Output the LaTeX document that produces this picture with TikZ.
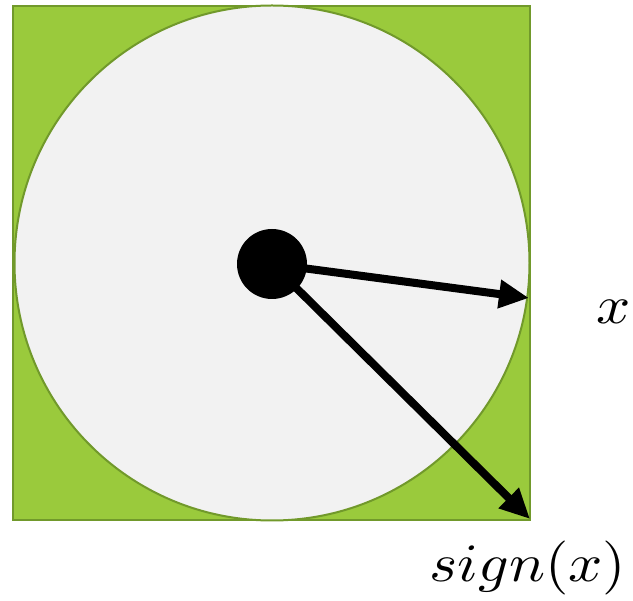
\documentclass[tikz,border=0pt]{standalone}
\usetikzlibrary{arrows.meta}
\definecolor{sqgreen}{HTML}{9ACA3C}
\definecolor{edgegreen}{HTML}{71992B}
\definecolor{disk}{HTML}{F2F2F2}
\newcommand{\biglabel}[1]{\scalebox{6.0}[5.4]{$#1$}}
\begin{document}
\begin{tikzpicture}[x=1pt,y=-1pt,
  vec/.style={line width=8pt,-{Triangle[length=30pt,width=27pt]}},
  lbl/.style={inner sep=0pt}]
\useasboundingbox (0,0) rectangle (633,601);
\draw[edgegreen,fill=sqgreen,line width=2.5pt] (13,6) rectangle (530,520);
\draw[edgegreen,fill=disk,line width=2pt] (272,263) circle[radius=257.5];
\node[circle,fill=black,minimum size=70pt,inner sep=0pt] (c) at (272,264) {};
\coordinate (a) at (529,298);
\coordinate (b) at (530,519);
\draw[vec] (c.center) -- (a);
\draw[vec] (c.center) -- (b);
\node[lbl] (lx) at (614,312) {\biglabel{x}};
\node[lbl] (ls) at (528,568) {\biglabel{sign(x)}};
\end{tikzpicture}
\end{document}
